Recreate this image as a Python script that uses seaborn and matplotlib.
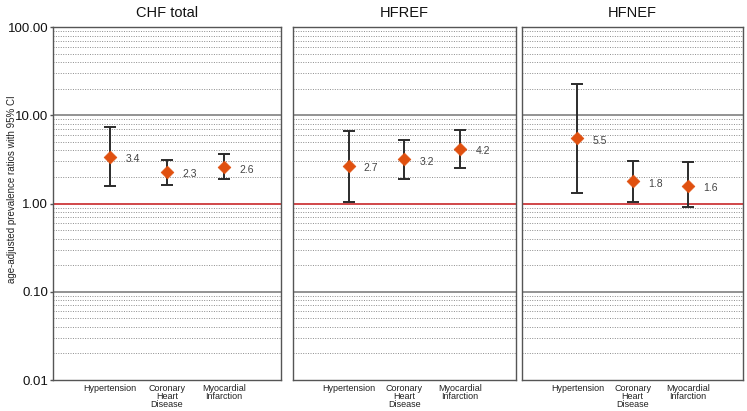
import numpy as np
import pandas as pd
import matplotlib
matplotlib.use("Agg")
import matplotlib.pyplot as plt
import seaborn as sns

# ===============================
# DATA
# ===============================
panels = ["CHF total", "HFREF", "HFNEF"]
conditions = ["Hypertension", "Coronary\nHeart\nDisease", "Myocardial\nInfarction"]

ratio_chf = [3.4, 2.3, 2.6]
lower_chf = [1.6, 1.62, 1.88]
upper_chf = [7.3, 3.15, 3.6]

ratio_hfref = [2.7, 3.2, 4.2]
lower_hfref = [1.05, 1.88, 2.5]
upper_hfref = [6.6, 5.3, 6.9]

ratio_hfnef = [5.5, 1.8, 1.6]
lower_hfnef = [1.32, 1.03, 0.92]
upper_hfnef = [22.8, 3.0, 2.97]

rows = []
for panel, r, lo, up in zip(panels,
                            [ratio_chf, ratio_hfref, ratio_hfnef],
                            [lower_chf, lower_hfref, lower_hfnef],
                            [upper_chf, upper_hfref, upper_hfnef]):
    for i, cond in enumerate(conditions):
        rows.append({"panel": panel, "condition": cond, "pos": i + 1,
                     "ratio": r[i], "lower": lo[i], "upper": up[i]})
df = pd.DataFrame(rows)

# ===============================
# PLOT
# ===============================
sns.set_style("white")
plt.rcParams['font.family'] = ['Liberation Sans', 'DejaVu Sans']

fig = plt.figure(figsize=(7.47, 4.11), dpi=100)
boxes = [(0.071, 0.0754, 0.305, 0.8586),
         (0.392, 0.0754, 0.2985, 0.8586),
         (0.699, 0.0754, 0.296, 0.8586)]

minor_vals = [m * 10.0 ** e for e in range(-2, 2) for m in range(2, 10)]

for k, panel in enumerate(panels):
    ax = fig.add_axes(boxes[k])
    sub = df[df["panel"] == panel]

    ax.set_yscale("log")
    ax.set_ylim(0.01, 100)
    ax.set_xlim(0, 4)

    # grid lines
    for v in minor_vals:
        ax.axhline(v, color="#8c8c8c", lw=0.7, ls=(0, (1, 1.5)), zorder=0)
    for v in [0.1, 10]:
        ax.axhline(v, color="#8a8a8a", lw=1.3, zorder=0)
    ax.axhline(1, color="#c8282a", lw=1.2, zorder=1)

    # confidence intervals
    yerr = [sub["ratio"] - sub["lower"], sub["upper"] - sub["ratio"]]
    ax.errorbar(sub["pos"], sub["ratio"], yerr=yerr, fmt="none",
                ecolor="#2b2b2b", elinewidth=1.4, capsize=4.5,
                capthick=1.4, zorder=2)

    # point estimates
    sns.scatterplot(data=sub, x="pos", y="ratio", marker="D", s=42,
                    color="#e0500f", edgecolor="#e0500f", linewidth=0.5,
                    ax=ax, zorder=3)

    for _, row in sub.iterrows():
        ax.annotate(f"{row['ratio']:.1f}", (row["pos"], row["ratio"]),
                    xytext=(11, -2), textcoords="offset points",
                    fontsize=7.5, color="#444444", va="center", ha="left")

    ax.set_xticks([1, 2, 3])
    ax.set_xticklabels(conditions, fontsize=6.5, linespacing=0.85,
                       va="top", color="#222222")
    ax.tick_params(axis="x", length=0, pad=3)
    ax.set_xlabel("")
    ax.set_title(panel, fontsize=10.5, pad=7, color="#111111")

    if k == 0:
        ax.set_yticks([0.01, 0.1, 1, 10, 100])
        ax.set_yticklabels(["0.01", "0.10", "1.00", "10.00", "100.00"],
                           fontsize=9.5, color="#111111")
        ax.tick_params(axis="y", which="major", length=2, width=1,
                       color="#555555", pad=1.5, left=True)
        ax.yaxis.set_minor_locator(matplotlib.ticker.NullLocator())
        ax.set_ylabel("")
    else:
        ax.set_yticks([])
        ax.set_ylabel("")
        ax.minorticks_off()

    for s in ax.spines.values():
        s.set_visible(True)
        s.set_color("#555555")
        s.set_linewidth(1.0)

fig.text(0.009, 1 - 189 / 411, "age-adjusted prevalence ratios with 95% CI",
         rotation=90, fontsize=7, color="#222222", ha="left", va="center")

fig.savefig("out.png", dpi=100)
